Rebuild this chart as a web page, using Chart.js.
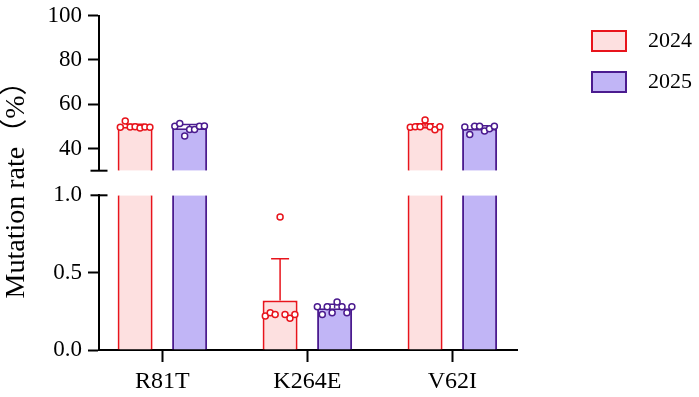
<!DOCTYPE html>
<html>
<head>
<meta charset="utf-8">
<script src="https://cdn.jsdelivr.net/npm/chart.js@4/dist/chart.umd.min.js"></script>
<style>
  html, body { margin: 0; padding: 0; background: #fff; }
</style>
</head>
<body>
<canvas id="myChart" width="699" height="397"></canvas>
<script>
// data
var categories = ["R81T", "K264E", "V62I"];
var seriesNames = ["2024", "2025"];
var means2024 = [49.9, 0.32, 49.9];
var means2025 = [49.2, 0.27, 48.9];
var sd2024 = [1.1, 0.27, 1.3];
var sd2025 = [1.7, 0.025, 1.4];
// replicates, left to right inside each bar
var dots2024 = [
    [49.6, 52.5, 49.7, 49.8, 49.3, 49.7, 49.6],
    [0.22, 0.24, 0.23, 0.86, 0.23, 0.205, 0.23],
    [49.6, 49.9, 49.9, 52.9, 49.9, 48.5, 49.9]
];
var dots2025 = [
    [50.1, 51.3, 45.7, 48.6, 48.6, 50.1, 50.2],
    [0.28, 0.23, 0.28, 0.24, 0.31, 0.28, 0.24, 0.28],
    [49.7, 46.4, 50.1, 50.1, 47.9, 49.0, 50.1]
];
// broken y axis: upper and lower ranges
var topRange = [30, 100];
var botRange = [0, 1.0];

var TOP_MIN = topRange[0], BOT_MAX = botRange[1];
var X_MIN = -0.437, X_MAX = 2.446;

var SERIF = "'Liberation Serif', 'Times New Roman', 'Noto Sans CJK SC', serif";
var CAT_PCT = 0.752, BAR_PCT = 0.642;
var GROUP_SHIFT = CAT_PCT / 4;
var JITTER = 0.034;
var CAP = 0.062;

var series = [
    {name: seriesNames[0], means: means2024, sd: sd2024, dots: dots2024,
     line: '#e8141c', fill: '#fde0e0', stack: 'a', shift: -GROUP_SHIFT},
    {name: seriesNames[1], means: means2025, sd: sd2025, dots: dots2025,
     line: '#4b1b8f', fill: '#c1b5f6', stack: 'b', shift: GROUP_SHIFT}
];

function inTop(v) { return v > BOT_MAX; }

var datasets = [];

// bars, once per axis segment
['yBot', 'yTop'].forEach(function(axis) {
    series.forEach(function(s) {
        datasets.push({
            type: 'bar',
            label: s.name,
            stack: s.stack,
            xAxisID: 'x',
            yAxisID: axis,
            order: 3,
            data: s.means.map(function(v, i) {
                if (axis === 'yBot') return {x: i, y: Math.min(v, BOT_MAX)};
                return {x: i, y: inTop(v) ? v : null};
            }),
            base: axis === 'yTop' ? TOP_MIN : botRange[0],
            backgroundColor: s.fill,
            borderColor: s.line,
            borderSkipped: false,
            borderWidth: function(ctx) {
                var cut = axis === 'yBot' && ctx.raw && ctx.raw.y >= BOT_MAX;
                return {left: 2, right: 2, top: cut ? 0 : 2, bottom: 0};
            },
            categoryPercentage: CAT_PCT,
            barPercentage: BAR_PCT
        });
    });
});

// error bars (mean + SD) and replicate dots
series.forEach(function(s) {
    ['yBot', 'yTop'].forEach(function(axis) {
        var err = [];
        s.means.forEach(function(m, i) {
            if ((axis === 'yTop') !== inTop(m)) return;
            var cx = i + s.shift, hi = m + s.sd[i];
            err.push({x: cx, y: m}, {x: cx, y: hi}, {x: cx, y: null},
                     {x: cx - CAP, y: hi}, {x: cx + CAP, y: hi}, {x: cx, y: null});
        });
        datasets.push({
            type: 'line', data: err, xAxisID: 'x', yAxisID: axis, order: 2,
            borderColor: s.line, borderWidth: 1.5, pointRadius: 0,
            spanGaps: false, fill: false
        });

        var pts = [];
        s.dots.forEach(function(vals, i) {
            vals.forEach(function(v, k) {
                if ((axis === 'yTop') !== inTop(v)) return;
                pts.push({x: i + s.shift + (k - (vals.length - 1) / 2) * JITTER, y: v});
            });
        });
        datasets.push({
            type: 'scatter', data: pts, xAxisID: 'x', yAxisID: axis, order: 1,
            pointRadius: 3, pointBorderWidth: 1.5,
            pointBackgroundColor: '#fff', pointBorderColor: s.line
        });
    });
});

// axis break marks
datasets.push({
    type: 'scatter', data: [{x: X_MIN, y: TOP_MIN}], xAxisID: 'x', yAxisID: 'yTop', order: 0,
    pointStyle: 'line', pointRadius: 8.5, pointBorderWidth: 2, pointBorderColor: '#000', clip: false
});
datasets.push({
    type: 'scatter', data: [{x: X_MIN, y: BOT_MAX}], xAxisID: 'x', yAxisID: 'yBot', order: 0,
    pointStyle: 'line', pointRadius: 8.5, pointBorderWidth: 2, pointBorderColor: '#000', clip: false
});

// legend swatches (box drawn inside a wider image so text sits further right)
function swatch(fill, line) {
    var c = document.createElement('canvas');
    c.width = 48; c.height = 22;
    var g = c.getContext('2d');
    g.fillStyle = fill;
    g.fillRect(3, 1, 34, 20);
    g.strokeStyle = line;
    g.lineWidth = 2;
    g.strokeRect(3, 1, 34, 20);
    return c;
}
var swatches = series.map(function(s) { return swatch(s.fill, s.line); });

var axisFont = {family: SERIF, size: 23};

function trimPad(scale) {
    scale.paddingTop = 15.7;
    scale.paddingBottom = 0;
}

var ctx = document.getElementById("myChart");
var myChart = new Chart(ctx, {
    type: 'bar',
    data: {datasets: datasets},
    options: {
        responsive: false,
        animation: false,
        events: [],
        layout: {padding: {top: 11, right: -3, bottom: 1, left: 0}},
        plugins: {
            tooltip: {enabled: false},
            legend: {
                position: 'right',
                align: 'start',
                maxWidth: 200,
                labels: {
                    usePointStyle: true,
                    pointStyleWidth: 48,
                    padding: 19,
                    color: '#000',
                    font: {family: SERIF, size: 22},
                    generateLabels: function() {
                        return series.map(function(s, i) {
                            return {text: s.name, pointStyle: swatches[i], fillStyle: s.fill,
                                    strokeStyle: s.line, lineWidth: 0, hidden: false, datasetIndex: i};
                        });
                    }
                }
            }
        },
        scales: {
            x: {
                type: 'linear',
                position: 'bottom',
                min: X_MIN,
                max: X_MAX,
                offset: false,
                grid: {display: true, drawOnChartArea: false, offset: false, tickLength: 12, tickWidth: 2, tickColor: '#000'},
                border: {display: true, color: '#000', width: 2},
                ticks: {
                    stepSize: 1,
                    includeBounds: false,
                    autoSkip: false,
                    maxRotation: 0,
                    padding: 5,
                    color: '#000',
                    font: {family: SERIF, size: 24},
                    callback: function(v) { return categories[v] !== undefined ? categories[v] : ''; }
                },
                afterFit: function(scale) { scale.height = 46; }
            },
            yTop: {
                type: 'linear',
                position: 'left',
                stack: 'ys',
                stackWeight: 155,
                weight: 3,
                stacked: false,
                min: topRange[0],
                max: topRange[1],
                grid: {display: true, drawOnChartArea: false, tickLength: 11, tickWidth: 2, tickColor: '#000'},
                border: {display: true, color: '#000', width: 2},
                ticks: {stepSize: 20, includeBounds: false, autoSkip: false, padding: 6, color: '#000', font: axisFont},
                afterFit: trimPad
            },
            yGap: {
                type: 'linear',
                position: 'left',
                stack: 'ys',
                stackWeight: 24.6,
                weight: 2,
                grid: {display: false},
                border: {display: false},
                ticks: {display: false},
                title: {
                    display: true,
                    text: 'Mutation rate（%）',
                    color: '#000',
                    font: {family: SERIF, size: 28},
                    padding: {top: 0, bottom: 0}
                },
                afterFit: function(scale) { scale.width = 99; }
            },
            yBot: {
                type: 'linear',
                position: 'left',
                stack: 'ys',
                stackWeight: 154.7,
                weight: 1,
                stacked: false,
                min: botRange[0],
                max: botRange[1],
                grid: {
                    display: true, drawOnChartArea: false, tickLength: 11, tickWidth: 2,
                    tickColor: function(c) { return c.tick && c.tick.value === BOT_MAX ? 'rgba(0,0,0,0)' : '#000'; }
                },
                border: {display: true, color: '#000', width: 2},
                ticks: {
                    stepSize: 0.5, autoSkip: false, padding: 6, color: '#000', font: axisFont,
                    callback: function(v) { return v.toFixed(1); }
                },
                afterFit: trimPad
            },
            ySpace: {
                type: 'linear',
                position: 'right',
                grid: {display: false},
                border: {display: false},
                ticks: {display: false},
                afterFit: function(scale) { scale.width = 53; }
            }
        }
    }
});
</script>
</body>
</html>
